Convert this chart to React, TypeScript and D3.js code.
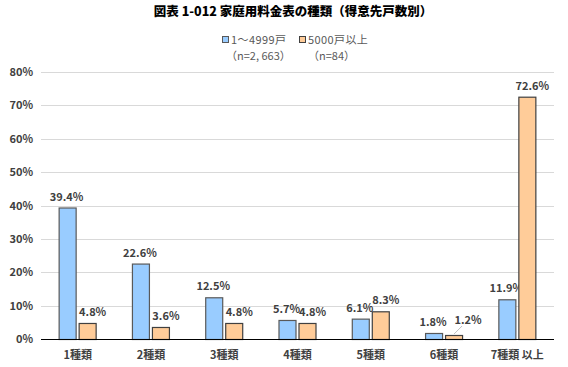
import React, { useEffect, useRef } from 'react';
import * as d3 from 'd3';

const categories = ['1種類', '2種類', '3種類', '4種類', '5種類', '6種類', '7種類 以上'];
const smallValues = [39.4, 22.6, 12.5, 5.7, 6.1, 1.8, 11.9];
const largeValues = [4.8, 3.6, 4.8, 4.8, 8.3, 1.2, 72.6];
const yTicks = [0, 10, 20, 30, 40, 50, 60, 70, 80];
const seriesNames = ['1～4999戸', '5000戸以上'];
const seriesNotes = ['（n=2, 663）', '（n=84）'];

const App = () => {
  const svgRef = useRef<SVGSVGElement>(null);

  useEffect(() => {
    const svg = d3.select(svgRef.current);
    svg.selectAll('*').remove();
    const width = 568;
    const height = 367;
    const margin = { top: 72, right: 14, bottom: 28, left: 41 };
    const innerWidth = width - margin.left - margin.right;
    const innerHeight = height - margin.top - margin.bottom;
    const font = "'Noto Sans CJK JP', 'DejaVu Sans', sans-serif";
    const colors = ['#99ccff', '#ffcc99'];
    const strokes = ['#595959', '#404040'];

    svg.append('text')
      .attr('x', 293).attr('y', 16)
      .attr('text-anchor', 'middle')
      .attr('font-family', font).attr('font-size', 12.5).attr('font-weight', 900)
      .attr('fill', '#000')
      .text('図表 1-012 家庭用料金表の種類（得意先戸数別）');

    // legend
    const legendX = [222, 299];
    seriesNames.forEach((name, i) => {
      svg.append('rect')
        .attr('x', legendX[i] + 0.5).attr('y', 36.5)
        .attr('width', 6).attr('height', 6)
        .attr('fill', colors[i]).attr('stroke', strokes[i]);
      svg.append('text')
        .attr('x', legendX[i] + 9).attr('y', 44)
        .attr('font-family', font).attr('font-size', 11).attr('letter-spacing', 0.4)
        .attr('fill', '#595959')
        .text(name);
      svg.append('text')
        .attr('x', legendX[i] + (i === 0 ? 4 : 9)).attr('y', 60)
        .attr('font-family', font).attr('font-size', 11)
        .attr('fill', '#595959')
        .text(seriesNotes[i]);
    });

    const x0 = d3.scaleBand().domain(categories).range([0, innerWidth]);
    const x1 = d3.scaleBand().domain(['a', 'b']).range([0, 38]).paddingInner(0.1);
    const y = d3.scaleLinear().domain([0, 80]).range([innerHeight, 0]);

    const g = svg.append('g').attr('transform', `translate(${margin.left},${margin.top})`);

    g.selectAll('.grid')
      .data(yTicks.slice(1))
      .enter().append('line')
      .attr('x1', 0).attr('x2', innerWidth)
      .attr('y1', d => Math.round(y(d)) + 0.5).attr('y2', d => Math.round(y(d)) + 0.5)
      .attr('stroke', '#d9d9d9').attr('stroke-width', 1);

    g.selectAll('.ytick')
      .data(yTicks)
      .enter().append('text')
      .attr('x', -8).attr('y', d => y(d) + 4)
      .attr('text-anchor', 'end')
      .attr('font-family', font).attr('font-size', 11).attr('font-weight', 'bold')
      .attr('fill', '#404040')
      .text(d => `${d}%`);

    const series = [smallValues, largeValues];
    series.forEach((vals, s) => {
      const key = s === 0 ? 'a' : 'b';
      g.selectAll(`.bar${s}`)
        .data(vals)
        .enter().append('rect')
        .attr('x', (d, i) => x0(categories[i])! + x0.bandwidth() / 2 - 19 + x1(key)! + 0.5)
        .attr('y', d => y(d) + 0.5)
        .attr('width', x1.bandwidth() - 1)
        .attr('height', d => innerHeight - y(d))
        .attr('fill', colors[s])
        .attr('stroke', strokes[s]).attr('stroke-width', 1.2);

      g.selectAll(`.lab${s}`)
        .data(vals)
        .enter().append('text')
        .attr('x', (d, i) => {
          const cx = x0(categories[i])! + x0.bandwidth() / 2 - 19 + x1(key)! + x1.bandwidth() / 2;
          if (s === 1 && i === 5) return cx + 14;
          return cx + (s === 0 ? -1 : 5);
        })
        .attr('y', (d, i) => (s === 1 && i === 5) ? y(d) - 11 : y(d) - 7)
        .attr('text-anchor', 'middle')
        .attr('font-family', font).attr('font-size', 11).attr('font-weight', 'bold')
        .attr('fill', '#404040')
        .text(d => `${d.toFixed(1)}%`);
    });

    // leader line for 6種類 orange label
    const lx = x0(categories[5])! + x0.bandwidth() / 2 - 19 + x1('b')! + x1.bandwidth() / 2;
    g.append('line')
      .attr('x1', lx).attr('y1', y(largeValues[5]) - 1)
      .attr('x2', lx + 8).attr('y2', y(largeValues[5]) - 9)
      .attr('stroke', '#bfbfbf').attr('stroke-width', 1);

    g.append('line')
      .attr('x1', 0).attr('x2', innerWidth)
      .attr('y1', innerHeight + 0.5).attr('y2', innerHeight + 0.5)
      .attr('stroke', '#000').attr('stroke-width', 1.2);

    g.selectAll('.xlab')
      .data(categories)
      .enter().append('text')
      .attr('x', d => x0(d)! + x0.bandwidth() / 2)
      .attr('y', innerHeight + 20)
      .attr('text-anchor', 'middle')
      .attr('font-family', font).attr('font-size', 11).attr('font-weight', 'bold')
      .attr('fill', '#404040')
      .text(d => d);
  }, []);

  return <svg ref={svgRef} width={568} height={367} style={{ position: 'absolute', left: 0, top: 0 }}></svg>;
};

export default App;
